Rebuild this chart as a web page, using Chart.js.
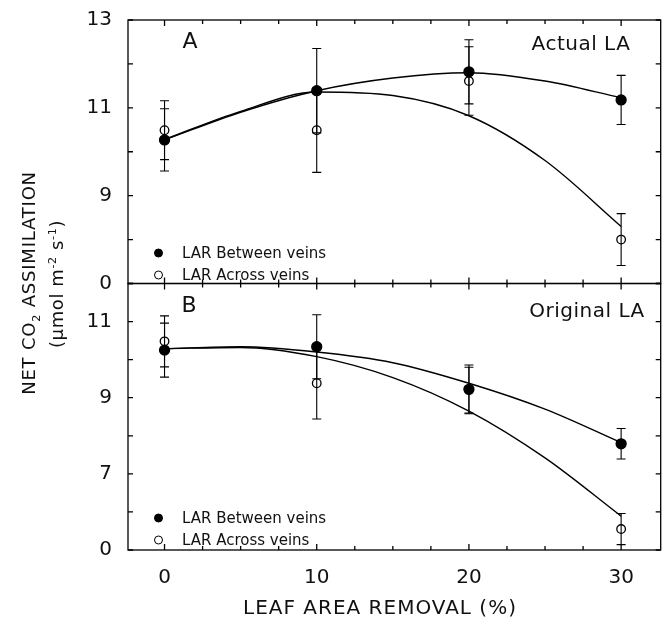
<!DOCTYPE html>
<html lang="en">
<head>
<meta charset="UTF-8">
<title>Net CO2 assimilation vs leaf area removal</title>
<script src="https://cdn.jsdelivr.net/npm/chart.js"></script>
<style>
* { margin: 0; padding: 0; box-sizing: border-box; }
body { background: #fff; font-family: 'DejaVu Sans', sans-serif; color: #111; }
.wrap { position: relative; width: 667px; height: 621px; }
canvas { position: absolute; left: 0; top: 0; }
.txt { position: absolute; white-space: nowrap; line-height: 1; }
.rot { transform: translate(-50%, -50%) rotate(-90deg); }
.center { transform: translate(-50%, -50%); }
sub, sup { font-size: 0.62em; line-height: 0; }
.leg { font-size: 15px; transform: translateY(-50%); }
.dot { position: absolute; left: -28px; top: 50%; width: 9px; height: 9px; margin-top: -4.5px; border-radius: 50%; border: 1.2px solid #000; }
.dot.full { background: #000; }
</style>
</head>
<body>
<div class="wrap">
    <canvas id="chart" width="667" height="621"></canvas>

    <div class="txt rot" style="left:29px; top:283px; font-size:18px; letter-spacing:0.8px;">NET CO<sub>2</sub> ASSIMILATION</div>
    <div class="txt rot" style="left:57px; top:284px; font-size:18px; letter-spacing:0.6px;">(&mu;mol m<sup>-2</sup> s<sup>-1</sup>)</div>
    <div class="txt center" style="left:380px; top:607px; font-size:20px; letter-spacing:1px;">LEAF AREA REMOVAL (%)</div>

    <div class="txt center" style="left:190px; top:41px; font-size:22px;">A</div>
    <div class="txt center" style="left:581px; top:43px; font-size:20px; letter-spacing:0.5px;">Actual LA</div>
    <div class="txt center" style="left:189px; top:305px; font-size:22px;">B</div>
    <div class="txt center" style="left:587px; top:310px; font-size:20px; letter-spacing:0.5px;">Original LA</div>

    <div class="txt leg" style="left:182px; top:253px;"><span class="dot full"></span>LAR Between veins</div>
    <div class="txt leg" style="left:182px; top:275px;"><span class="dot"></span>LAR Across veins</div>
    <div class="txt leg" style="left:182px; top:518px;"><span class="dot full"></span>LAR Between veins</div>
    <div class="txt leg" style="left:182px; top:540px;"><span class="dot"></span>LAR Across veins</div>
</div>

<script>
// leaf area removal (%)
const xValues = [0, 10, 20, 30];

// panel A - actual leaf area (means and +/- bars)
const aBetween = [10.27, 11.39, 11.82, 11.18];
const aBetweenErr = [0.71, 0.96, 0.73, 0.56];
const aAcross = [10.49, 10.49, 11.61, 8.0];
const aAcrossErr = [0.67, 0.96, 0.78, 0.59];

// panel B - original leaf area
const bBetween = [10.25, 10.34, 9.22, 7.79];
const bBetweenErr = [0.71, 0.84, 0.64, 0.40];
const bAcross = [10.48, 9.38, 9.2, 5.55];
const bAcrossErr = [0.67, 0.94, 0.6, 0.41];

// fitted curves
const curveX = [0, 5, 10, 15, 20, 25, 30];
const aBetweenFit = [10.27, 10.9, 11.39, 11.68, 11.8, 11.61, 11.23];
const aAcrossFit = [10.28, 10.92, 11.36, 11.28, 10.82, 9.8, 8.3];
const bBetweenFit = [10.29, 10.34, 10.2, 9.92, 9.38, 8.7, 7.82];
const bAcrossFit = [10.29, 10.32, 10.08, 9.53, 8.65, 7.42, 5.89];

// axis ticks
const xTicks = [0, 10, 20, 30];
const xMinorTicks = [2.5, 5, 7.5, 12.5, 15, 17.5, 22.5, 25, 27.5];
const aTickValues = [7, 9, 11, 13];
const aTickLabels = ['0', '9', '11', '13'];
const bTickValues = [5, 7, 9, 11];
const bTickLabels = ['0', '7', '9', '11'];

const FONT = 'DejaVu Sans';
const toPts = (xs, ys) => xs.map((x, i) => ({ x: x, y: ys[i] }));

const curve = (ys, axis) => ({
    data: toPts(curveX, ys),
    yAxisID: axis,
    borderColor: '#000',
    borderWidth: 1.4,
    pointRadius: 0,
    cubicInterpolationMode: 'monotone',
    fill: false,
    order: 2
});
const marks = (ys, axis, filled) => ({
    data: toPts(xValues, ys),
    yAxisID: axis,
    showLine: false,
    pointStyle: 'circle',
    pointRadius: filled ? 5 : 4.3,
    pointBackgroundColor: filled ? '#000' : 'rgba(0,0,0,0)',
    pointBorderColor: '#000',
    pointBorderWidth: 1.3,
    order: 1
});

const errorSeries = [
    { axis: 'yA', means: aBetween, errs: aBetweenErr },
    { axis: 'yA', means: aAcross, errs: aAcrossErr },
    { axis: 'yB', means: bBetween, errs: bBetweenErr },
    { axis: 'yB', means: bAcross, errs: bAcrossErr }
];

// vertical error bars with caps
const errorBars = {
    id: 'errorBars',
    beforeDatasetsDraw(chart) {
        const ctx = chart.ctx, xs = chart.scales.x;
        ctx.save();
        ctx.strokeStyle = '#000';
        ctx.lineWidth = 1.1;
        errorSeries.forEach(s => {
            const ys = chart.scales[s.axis];
            s.means.forEach((m, i) => {
                const x = xs.getPixelForValue(xValues[i]);
                const y1 = ys.getPixelForValue(m - s.errs[i]);
                const y2 = ys.getPixelForValue(m + s.errs[i]);
                ctx.beginPath();
                ctx.moveTo(x, y1); ctx.lineTo(x, y2);
                ctx.moveTo(x - 4.5, y1); ctx.lineTo(x + 4.5, y1);
                ctx.moveTo(x - 4.5, y2); ctx.lineTo(x + 4.5, y2);
                ctx.stroke();
            });
        });
        ctx.restore();
    }
};

// box round each panel with inward ticks
const frame = {
    id: 'frame',
    afterDraw(chart) {
        const ctx = chart.ctx, xs = chart.scales.x, area = chart.chartArea;
        ctx.save();
        ctx.strokeStyle = '#000';
        ctx.lineWidth = 1.3;
        ['yA', 'yB'].forEach(id => {
            const ys = chart.scales[id];
            const top = ys.top, bot = ys.bottom;
            ctx.strokeRect(area.left, top, area.right - area.left, bot - top);
            ctx.beginPath();
            xTicks.concat(xMinorTicks).forEach(v => {
                const x = xs.getPixelForValue(v);
                const len = xTicks.includes(v) ? 6 : 4;
                ctx.moveTo(x, top); ctx.lineTo(x, top + len);
                ctx.moveTo(x, bot); ctx.lineTo(x, bot - len);
            });
            for (let v = Math.ceil(ys.min); v <= ys.max; v++) {
                const y = ys.getPixelForValue(v);
                ctx.moveTo(area.left, y); ctx.lineTo(area.left + 5, y);
                ctx.moveTo(area.right, y); ctx.lineTo(area.right - 5, y);
            }
            ctx.stroke();
        });
        ctx.restore();
    }
};

const yScale = (min, max, values, labels, weight) => ({
    type: 'linear',
    position: 'left',
    stack: 'panels',
    stackWeight: weight,
    min: min,
    max: max,
    grid: { display: false },
    border: { display: false },
    ticks: {
        autoSkip: false,
        padding: 8,
        color: '#111',
        font: { family: FONT, size: 20 },
        callback: v => labels[values.indexOf(v)]
    },
    afterBuildTicks: s => { s.ticks = values.map(v => ({ value: v })); },
    afterFit: s => { s.width = 128; }
});

new Chart(document.getElementById('chart'), {
    type: 'line',
    data: {
        datasets: [
            curve(aBetweenFit, 'yA'),
            curve(aAcrossFit, 'yA'),
            curve(bBetweenFit, 'yB'),
            curve(bAcrossFit, 'yB'),
            marks(aBetween, 'yA', true),
            marks(aAcross, 'yA', false),
            marks(bBetween, 'yB', true),
            marks(bAcross, 'yB', false)
        ]
    },
    options: {
        responsive: false,
        animation: false,
        layout: { padding: { top: 19, right: 4, left: 0, bottom: 0 } },
        plugins: { legend: { display: false }, tooltip: { enabled: false } },
        scales: {
            x: {
                type: 'linear',
                min: -2.4,
                max: 32.6,
                grid: { display: false },
                border: { display: false },
                ticks: {
                    autoSkip: false,
                    padding: 8,
                    color: '#111',
                    font: { family: FONT, size: 20 }
                },
                afterBuildTicks: s => { s.ticks = xTicks.map(v => ({ value: v })); },
                afterFit: s => { s.height = 71; }
            },
            // stacked boxes are placed last-first, so the lower panel goes first
            yB: yScale(5, 12, bTickValues, bTickLabels, 267),
            yA: yScale(7, 13, aTickValues, aTickLabels, 264)
        }
    },
    plugins: [errorBars, frame]
});
</script>
</body>
</html>
